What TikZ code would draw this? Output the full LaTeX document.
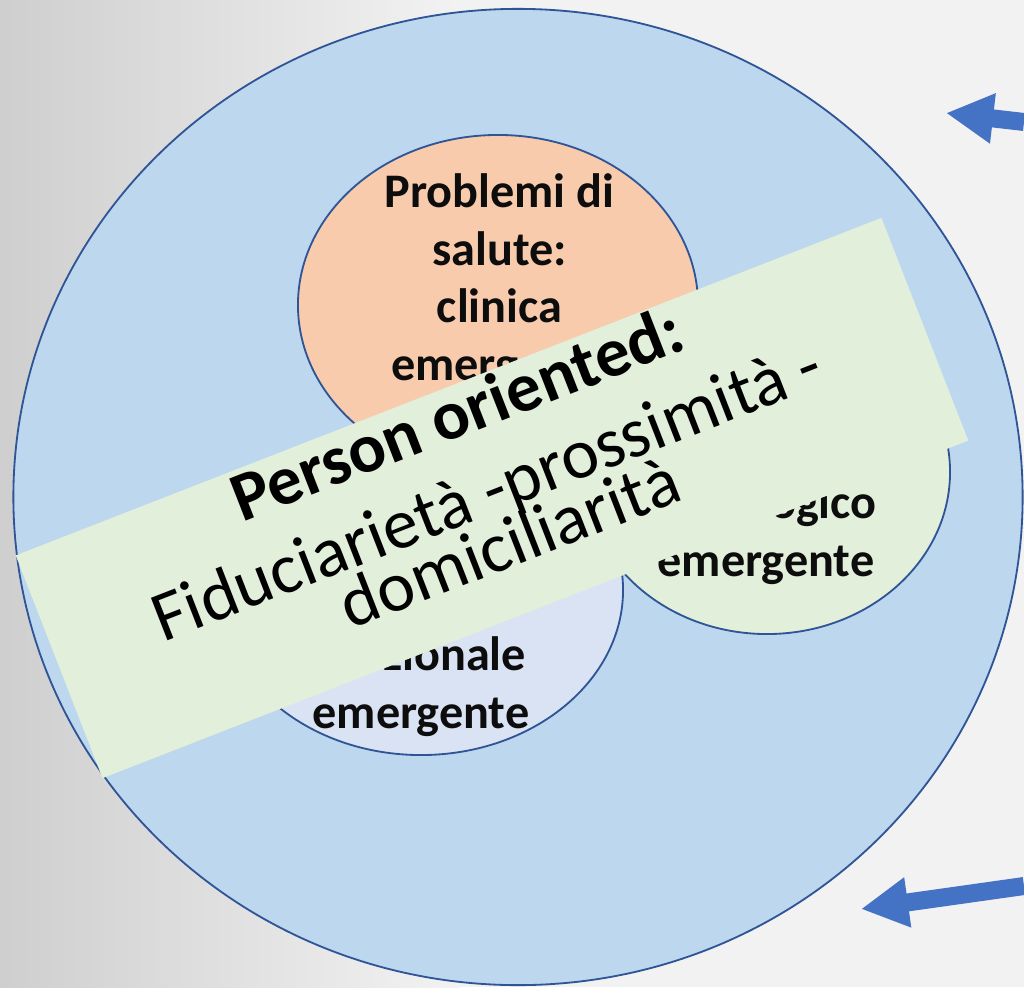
\documentclass[tikz,border=0pt]{standalone}
\usepackage{fontspec}
\setmainfont{Carlito}
\usepackage{tikz}
\usetikzlibrary{shapes.geometric}
\usetikzlibrary{arrows.meta}
\usepackage{xcolor}
\definecolor{ringblue}{HTML}{BDD7EE}
\definecolor{edgeblue}{HTML}{2F5597}
\definecolor{peach}{HTML}{F8CBAD}
\definecolor{sage}{HTML}{E2EFDA}
\definecolor{lavender}{HTML}{DAE3F3}
\definecolor{arrowblue}{HTML}{4472C4}
\tikzset{>={Triangle[length=1.18cm, width=1.18cm]}}

\begin{document}
\begin{tikzpicture}[x=0.025cm, y=-0.025cm]
        % bubble = coloured ellipse, bubbletext = bold label set inside it
        \tikzstyle{bubble}=[ellipse, draw=edgeblue, line width=1.3pt, inner sep=0pt]
        \tikzstyle{bubbletext}=[align=center, text=black!95, font=\bfseries\fontsize{34.3}{40.9}\selectfont]
        \tikzstyle{bannertext}=[rotate=21.3, anchor=base, inner sep=0pt]
        \tikzstyle{bigarrow}=[->, arrowblue, line width=0.45cm]

        \useasboundingbox (0,0) rectangle (1024,987);
        \shade[left color=black!19, right color=black!5] (0,0) rectangle (460,987);
        \fill[black!5] (460,0) rectangle (1024,987);

        \node[bubble, fill=ringblue, minimum width=25.225cm, minimum height=24.4cm] (ring) at (518,497) {};
        \node[bubble, fill=peach, minimum width=10cm, minimum height=8.5cm] (health) at (498,305) {};
        \node[bubble, fill=lavender, minimum width=10.1cm, minimum height=8.25cm] (func) at (421,590) {};
        \node[bubble, fill=sage, minimum width=9.15cm, minimum height=8.1cm] (psych) at (767,472) {};

        \node[bubbletext] (healthtext) at (499.5,281) {Problemi di\\salute:\\clinica\\emergente};
        \node[bubbletext] (psychtext) at (766,534.5) {psicologico\\emergente};
        \node[bubbletext] (functext) at (421,686.5) {funzionale\\emergente};

        % person oriented banner
        \node[rotate=21.3, fill=sage, minimum width=23.225cm, minimum height=5.975cm, inner sep=0pt] (banner) at (492,498) {};
        \node[bannertext, font=\bfseries\fontsize{49.5}{57}\selectfont] (person) at (465.4,435.3) {Person oriented:};
        \node[bannertext, font=\fontsize{50.5}{57}\selectfont] (trust) at (495.5,512.7) {Fiduciarietà -prossimità -};
        \node[bannertext, font=\fontsize{50.5}{57}\selectfont] (home) at (518,564.6) {domiciliarità};

        % arrows coming in from the right
        \coordinate (topstart) at (1024,122);
        \coordinate (toptip) at (946,113);
        \coordinate (lowstart) at (1024,886);
        \coordinate (lowtip) at (861,909);
        \draw[bigarrow] (topstart) -- (toptip);
        \draw[bigarrow] (lowstart) -- (lowtip);

\end{tikzpicture}
\end{document}
